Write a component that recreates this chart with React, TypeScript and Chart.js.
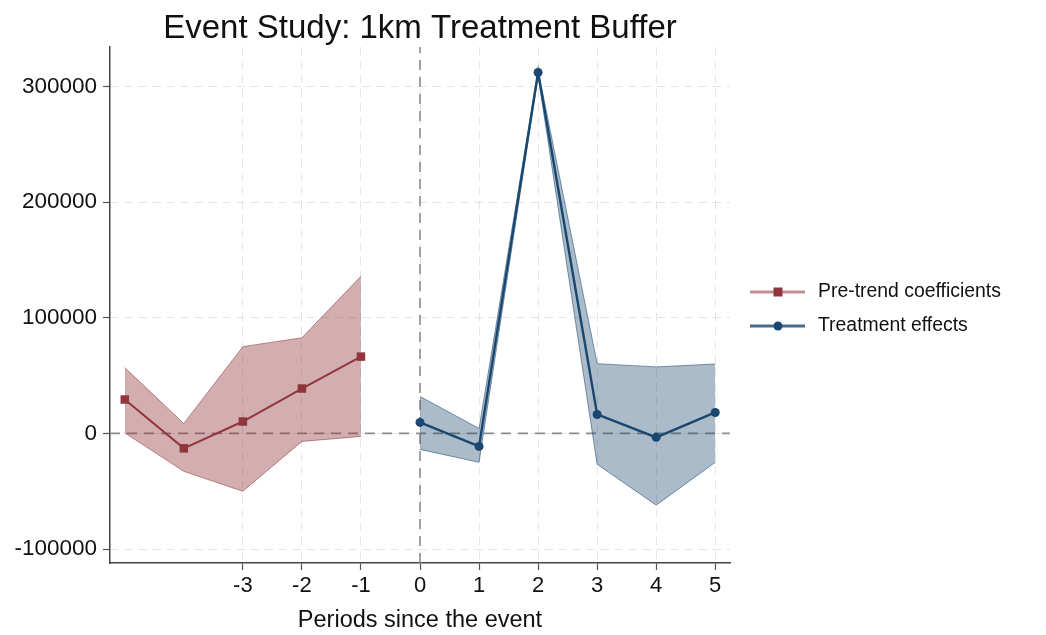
import React, { useEffect, useRef } from "react";
import { Chart, registerables } from "chart.js";

Chart.register(...registerables);

const preLabel = "Pre-trend coefficients";
const postLabel = "Treatment effects";
const chartTitle = "Event Study: 1km Treatment Buffer";
const xTitle = "Periods since the event";

const prePeriods = [-5, -4, -3, -2, -1];
const preCoef = [29300, -12900, 10300, 38800, 66400];
const preUpper = [56900, 8600, 75000, 82700, 135800];
const preLower = [500, -32800, -50000, -6900, -2600];

const postPeriods = [0, 1, 2, 3, 4, 5];
const postCoef = [9500, -11200, 312000, 16400, -3400, 18100];
const postUpper = [31900, 4300, 314000, 60300, 57500, 60000];
const postLower = [-13800, -25000, 309000, -26700, -62000, -25000];

const xTicks = [-3, -2, -1, 0, 1, 2, 3, 4, 5];
const yTicks = [-100000, 0, 100000, 200000, 300000];

const RED = "#90353b";
const BLUE = "#1a476f";
const FONT = "'Liberation Sans', Arial, Helvetica, sans-serif";

const pts = (xs: number[], ys: number[]) => xs.map((x, i) => ({ x, y: ys[i] }));

const refLines = {
  id: "refLines",
  beforeDatasetsDraw(chart: any) {
    const { ctx, chartArea, scales } = chart;
    const y0 = scales.y.getPixelForValue(0);
    const x0 = scales.x.getPixelForValue(0);
    ctx.save();
    ctx.strokeStyle = "#8c8c8c";
    ctx.lineWidth = 1.6;
    ctx.setLineDash([10, 7]);
    ctx.beginPath();
    ctx.moveTo(chartArea.left, y0);
    ctx.lineTo(chartArea.right, y0);
    ctx.stroke();
    ctx.beginPath();
    ctx.moveTo(x0, chartArea.bottom);
    ctx.lineTo(x0, chartArea.top);
    ctx.stroke();
    ctx.restore();
  },
};

const titlePlugin = {
  id: "plotTitle",
  afterDraw(chart: any) {
    const { ctx, chartArea } = chart;
    ctx.save();
    ctx.fillStyle = "#111";
    ctx.font = `33px ${FONT}`;
    ctx.textAlign = "center";
    ctx.textBaseline = "alphabetic";
    ctx.fillText(chartTitle, (chartArea.left + chartArea.right) / 2, chartArea.top - 9);
    ctx.restore();
  },
};

const customLegend = {
  id: "customLegend",
  afterDraw(chart: any) {
    const { ctx, chartArea } = chart;
    const x0 = chartArea.right + 20;
    const mid = (chartArea.top + chartArea.bottom) / 2;
    const rows = [
      { label: preLabel, color: RED, line: "rgba(144,53,59,0.55)", style: "rect", y: mid - 13 },
      { label: postLabel, color: BLUE, line: "rgba(26,71,111,0.8)", style: "circle", y: mid + 21 },
    ];
    ctx.save();
    rows.forEach((r) => {
      ctx.strokeStyle = r.line;
      ctx.lineWidth = 3;
      ctx.beginPath();
      ctx.moveTo(x0, r.y);
      ctx.lineTo(x0 + 55, r.y);
      ctx.stroke();
      ctx.fillStyle = r.color;
      if (r.style === "rect") {
        ctx.fillRect(x0 + 28 - 4.5, r.y - 4.5, 9, 9);
      } else {
        ctx.beginPath();
        ctx.arc(x0 + 28, r.y, 4.5, 0, Math.PI * 2);
        ctx.fill();
      }
      ctx.fillStyle = "#111";
      ctx.font = `19.4px ${FONT}`;
      ctx.textBaseline = "middle";
      ctx.textAlign = "left";
      ctx.fillText(r.label, x0 + 68, r.y);
    });
    ctx.restore();
  },
};

export default function App() {
  const ref = useRef<HTMLCanvasElement | null>(null);
  useEffect(() => {
    if (!ref.current) return;
    const chart = new Chart(ref.current, {
      type: "line",
      data: {
        datasets: [
          {
            label: "pre upper",
            data: pts(prePeriods, preUpper),
            borderColor: "rgba(144,53,59,0.55)",
            borderWidth: 1,
            backgroundColor: "rgba(144,53,59,0.4)",
            pointRadius: 0,
            fill: "+1",
            tension: 0,
            order: 2,
          },
          {
            label: "pre lower",
            data: pts(prePeriods, preLower),
            borderColor: "rgba(144,53,59,0.55)",
            borderWidth: 1,
            pointRadius: 0,
            fill: false,
            tension: 0,
            order: 2,
          },
          {
            label: "post upper",
            data: pts(postPeriods, postUpper),
            borderColor: "rgba(26,71,111,0.55)",
            borderWidth: 1,
            backgroundColor: "rgba(26,71,111,0.37)",
            pointRadius: 0,
            fill: "+1",
            tension: 0,
            order: 2,
          },
          {
            label: "post lower",
            data: pts(postPeriods, postLower),
            borderColor: "rgba(26,71,111,0.55)",
            borderWidth: 1,
            pointRadius: 0,
            fill: false,
            tension: 0,
            order: 2,
          },
          {
            label: preLabel,
            data: pts(prePeriods, preCoef),
            borderColor: RED,
            backgroundColor: RED,
            borderWidth: 2,
            pointStyle: "rect",
            pointRadius: 6,
            pointBorderWidth: 0,
            fill: false,
            tension: 0,
            order: 0,
          },
          {
            label: postLabel,
            data: pts(postPeriods, postCoef),
            borderColor: BLUE,
            backgroundColor: BLUE,
            borderWidth: 2.4,
            pointStyle: "circle",
            pointRadius: 4.5,
            pointBorderWidth: 0,
            fill: false,
            tension: 0,
            order: 0,
          },
        ],
      },
      options: {
        animation: false,
        responsive: true,
        maintainAspectRatio: false,
        layout: { padding: { left: 0, right: 316, top: 47, bottom: 0 } },
        plugins: {
          legend: { display: false },
          tooltip: { enabled: false },
          title: { display: false },
        },
        scales: {
          x: {
            type: "linear",
            min: -5.25,
            max: 5.25,
            afterBuildTicks: (s: any) => {
              s.ticks = xTicks.map((v) => ({ value: v }));
            },
            afterFit: (s: any) => {
              s.height = 72;
            },
            ticks: {
              color: "#111",
              font: { family: FONT, size: 22 },
              padding: 3,
              maxRotation: 0,
              autoSkip: false,
              callback: (v: any) => String(v),
            },
            grid: {
              color: "#e4e4e4",
              lineWidth: 1,
              tickLength: 7,
              tickColor: "#555",
              tickWidth: 1.2,
            },
            border: { display: true, color: "#444", width: 1.5, dash: [8, 6] },
            title: {
              display: true,
              text: xTitle,
              color: "#111",
              font: { family: FONT, size: 23.5 },
              padding: { top: 0, bottom: 0 },
            },
          },
          y: {
            type: "linear",
            min: -112000,
            max: 334000,
            afterBuildTicks: (s: any) => {
              s.ticks = yTicks.map((v) => ({ value: v }));
            },
            afterFit: (s: any) => {
              s.width = 110;
            },
            ticks: {
              color: "#111",
              font: { family: FONT, size: 22.5 },
              padding: 6,
              callback: (v: any) => String(v),
            },
            grid: {
              color: "#e4e4e4",
              lineWidth: 1,
              tickLength: 7,
              tickColor: "#555",
              tickWidth: 1.2,
            },
            border: { display: true, color: "#444", width: 1.5, dash: [8, 6] },
          },
        },
      },
      plugins: [refLines, titlePlugin, customLegend],
    } as any);
    return () => chart.destroy();
  }, []);
  return (
    <div style={{ position: "fixed", left: 0, top: 0, width: 1046, height: 635, background: "#fff" }}>
      <canvas ref={ref} />
    </div>
  );
}
